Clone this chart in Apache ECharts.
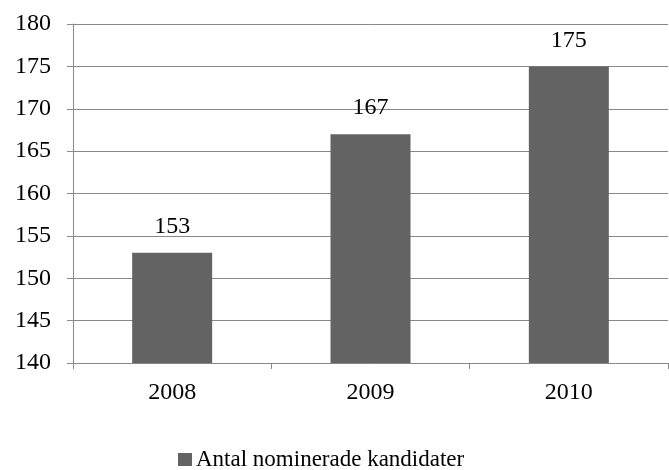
<!DOCTYPE html>
<html>
<head>
<meta charset="utf-8">
<script src="https://cdn.jsdelivr.net/npm/echarts@6/dist/echarts.min.js"></script>
<style>
  html, body { margin: 0; padding: 0; background: #fff; }
  #chart { width: 669px; height: 470px; }
</style>
</head>
<body>
<div id="chart"></div>
<script>
// data
const years = ["2008", "2009", "2010"];
const nominated = [153, 167, 175];
const seriesName = "Antal nominerade kandidater";

const font = "'Liberation Serif', 'Times New Roman', serif";
const chart = echarts.init(document.getElementById("chart"));

chart.setOption({
  animation: false,
  textStyle: { fontFamily: font },
  grid: { left: 73, right: 1, top: 24, bottom: 107 },
  legend: {
    top: 448,
    left: 178,
    padding: 0,
    icon: "rect",
    itemWidth: 14,
    itemHeight: 13,
    itemGap: 5,
    textStyle: { fontFamily: font, fontSize: 23, color: "#000", padding: [0, 0, 0, -1] },
    data: [seriesName],
  },
  xAxis: {
    type: "category",
    data: years,
    axisLine: { lineStyle: { color: "#888", width: 1 } },
    axisTick: { show: true, length: 6, lineStyle: { color: "#888" } },
    axisLabel: { color: "#000", fontFamily: font, fontSize: 24, margin: 18 },
  },
  yAxis: {
    type: "value",
    min: 140,
    max: 180,
    interval: 5,
    axisLine: { show: true, lineStyle: { color: "#888", width: 1 } },
    axisTick: { show: true, length: 6, lineStyle: { color: "#888" } },
    axisLabel: { color: "#000", fontFamily: font, fontSize: 24, margin: 22 },
    splitLine: { lineStyle: { color: "#888", width: 1 } },
  },
  series: [
    {
      name: seriesName,
      type: "bar",
      data: nominated,
      barWidth: 80,
      itemStyle: { color: "#636363" },
      label: {
        show: true,
        position: "top",
        distance: 14,
        color: "#000",
        fontFamily: font,
        fontSize: 24,
      },
    },
  ],
});
</script>
</body>
</html>
